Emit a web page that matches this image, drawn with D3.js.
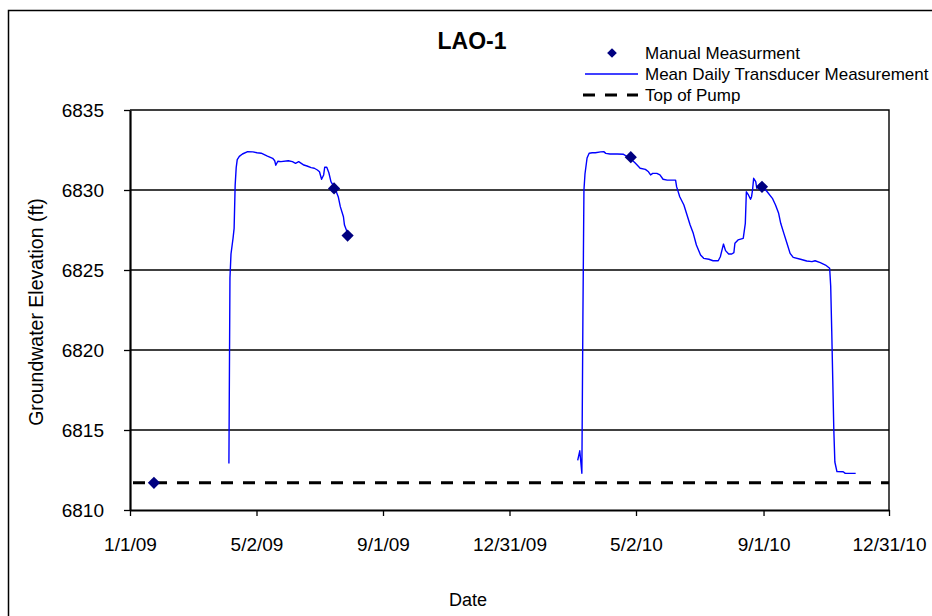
<!DOCTYPE html>
<html>
<head>
<meta charset="utf-8">
<script src="https://cdn.jsdelivr.net/npm/d3@7"></script>
<style>
  html, body { margin: 0; padding: 0; background: #fff; }
  svg { display: block; font-family: Arial, "Liberation Sans", sans-serif; }
</style>
</head>
<body>
<svg id="chart" width="932" height="616"></svg>
<script>
// ---------------- data ----------------
const chartTitle = "LAO-1";
const yAxisTitle = "Groundwater Elevation (ft)";
const xAxisTitle = "Date";
const legendLabels = ["Manual Measurment", "Mean Daily Transducer Measurement", "Top of Pump"];

const xTickDates = ["2009-01-01 00:00", "2009-05-02 12:00", "2009-09-01 00:00", "2009-12-31 12:00", "2010-05-02 00:00", "2010-09-01 12:00", "2010-12-31 00:00"];
const xTickLabels = ["1/1/09", "5/2/09", "9/1/09", "12/31/09", "5/2/10", "9/1/10", "12/31/10"];
const yTicks = [6810, 6815, 6820, 6825, 6830, 6835];

const manualDates = ["2009-01-24", "2009-07-16", "2009-07-29", "2010-04-27", "2010-08-31"];
const manualLevels = [6811.7, 6830.1, 6827.15, 6832.05, 6830.2];

const topOfPump = 6811.7;

const transducer2009Dates = ["2009-04-06","2009-04-07","2009-04-08","2009-04-09","2009-04-10","2009-04-11","2009-04-12","2009-04-13","2009-04-14","2009-04-16","2009-04-19","2009-04-24","2009-04-29","2009-05-03","2009-05-07","2009-05-13","2009-05-18","2009-05-20","2009-05-21","2009-05-23","2009-05-26","2009-06-02","2009-06-06","2009-06-09","2009-06-12","2009-06-17","2009-06-20","2009-06-24","2009-06-27","2009-06-30","2009-07-02","2009-07-04","2009-07-06","2009-07-07","2009-07-09","2009-07-11","2009-07-13","2009-07-17","2009-07-20","2009-07-22","2009-07-25","2009-07-26","2009-07-29"];
const transducer2009Levels = [6812.9,6824.5,6826.0,6826.5,6827.0,6827.6,6830.3,6831.4,6831.9,6832.1,6832.25,6832.4,6832.38,6832.33,6832.3,6832.12,6831.98,6831.83,6831.55,6831.8,6831.77,6831.83,6831.77,6831.67,6831.77,6831.56,6831.5,6831.4,6831.36,6831.25,6831.14,6830.67,6830.94,6831.42,6831.42,6831.08,6830.52,6830.08,6829.58,6828.96,6828.33,6827.81,6827.3];

const transducer2010Dates = ["2010-03-07","2010-03-09","2010-03-10","2010-03-11","2010-03-12","2010-03-13","2010-03-14","2010-03-16","2010-03-18","2010-03-21","2010-03-24","2010-03-29","2010-04-01","2010-04-03","2010-04-07","2010-04-14","2010-04-20","2010-04-26","2010-05-01","2010-05-06","2010-05-11","2010-05-14","2010-05-16","2010-05-18","2010-05-22","2010-05-25","2010-05-28","2010-06-01","2010-06-09","2010-06-10","2010-06-13","2010-06-17","2010-06-20","2010-06-23","2010-06-26","2010-06-29","2010-07-03","2010-07-06","2010-07-11","2010-07-15","2010-07-20","2010-07-22","2010-07-25","2010-07-27","2010-07-30","2010-08-02","2010-08-04","2010-08-05","2010-08-08","2010-08-13","2010-08-15","2010-08-16","2010-08-18","2010-08-20","2010-08-21","2010-08-22","2010-08-23","2010-08-25","2010-08-26","2010-08-29","2010-09-01","2010-09-05","2010-09-10","2010-09-13","2010-09-16","2010-09-18","2010-09-21","2010-09-24","2010-09-27","2010-09-30","2010-10-07","2010-10-13","2010-10-18","2010-10-21","2010-10-26","2010-10-31","2010-11-04","2010-11-05","2010-11-06","2010-11-07","2010-11-08","2010-11-09","2010-11-11","2010-11-17","2010-11-19","2010-11-29"];
const transducer2010Levels = [6813.1,6813.7,6813.0,6812.3,6822.0,6830.0,6831.0,6832.0,6832.3,6832.33,6832.33,6832.38,6832.4,6832.29,6832.25,6832.25,6832.23,6832.0,6831.7,6831.36,6831.29,6831.14,6830.94,6831.04,6831.04,6830.94,6830.67,6830.62,6830.62,6830.21,6829.58,6829.06,6828.44,6827.81,6827.29,6826.56,6825.94,6825.73,6825.67,6825.58,6825.58,6825.83,6826.62,6826.21,6826.0,6826.0,6826.08,6826.67,6826.88,6826.98,6827.92,6829.89,6829.69,6829.42,6829.58,6830.04,6830.73,6830.52,6830.11,6830.38,6830.19,6829.89,6829.48,6829.06,6828.54,6827.92,6827.29,6826.67,6826.04,6825.79,6825.67,6825.56,6825.52,6825.58,6825.46,6825.31,6825.11,6824.0,6821.2,6818.1,6815.0,6813.0,6812.4,6812.39,6812.29,6812.29];

// ---------------- drawing ----------------
const svg = d3.select("#chart");
const W = 932, H = 616;
const plot = { left: 130, right: 889, top: 110, bottom: 510 };
const FONT = "Arial, 'Liberation Sans', sans-serif";

const parseDay = d3.timeParse("%Y-%m-%d");
const parseTick = d3.timeParse("%Y-%m-%d %H:%M");

const x = d3.scaleTime()
  .domain([parseTick(xTickDates[0]), parseTick(xTickDates[xTickDates.length - 1])])
  .range([plot.left, plot.right]);
const y = d3.scaleLinear()
  .domain([yTicks[0], yTicks[yTicks.length - 1]])
  .range([plot.bottom, plot.top]);

svg.append("rect").attr("width", W).attr("height", H).attr("fill", "#fff");
// outer chart frame (only left/top visible)
svg.append("rect").attr("x", 8.5).attr("y", 10.5).attr("width", 1000).attr("height", 1000)
  .attr("fill", "none").attr("stroke", "#000").attr("stroke-width", 1.5);

// gridlines
svg.append("g").selectAll("line").data(yTicks.slice(1, -1)).join("line")
  .attr("x1", plot.left).attr("x2", plot.right)
  .attr("y1", d => y(d)).attr("y2", d => y(d))
  .attr("stroke", "#000").attr("stroke-width", 1.4);
// plot border top/right
svg.append("path")
  .attr("d", `M${plot.left},${plot.top}H${plot.right}V${plot.bottom}`)
  .attr("fill", "none").attr("stroke", "#000").attr("stroke-width", 1.4);

// axes
const xTickVals = xTickDates.map(parseTick);
const xAxis = d3.axisBottom(x).tickValues(xTickVals)
  .tickFormat((d, i) => xTickLabels[i]).tickSize(6).tickSizeOuter(0).tickPadding(22);
const gx = svg.append("g").attr("transform", `translate(0,${plot.bottom})`).call(xAxis);
gx.select(".domain").attr("stroke", "#000").attr("stroke-width", 2.2);
gx.selectAll(".tick line").attr("stroke", "#000").attr("stroke-width", 1.3);
gx.selectAll("text").attr("font-size", 19).attr("fill", "#000").attr("font-family", FONT);

const yAxis = d3.axisLeft(y).tickValues(yTicks).tickFormat(d3.format("d"))
  .tickSize(6).tickSizeOuter(0).tickPadding(20);
const gy = svg.append("g").attr("transform", `translate(${plot.left},0)`).call(yAxis);
gy.select(".domain").attr("stroke", "#000").attr("stroke-width", 2.2);
gy.selectAll(".tick line").attr("stroke", "#000").attr("stroke-width", 1.3);
gy.selectAll("text").attr("font-size", 19).attr("fill", "#000").attr("font-family", FONT);

// top of pump dashed line
svg.append("line")
  .attr("x1", plot.left + 3).attr("x2", plot.right)
  .attr("y1", y(topOfPump)).attr("y2", y(topOfPump))
  .attr("stroke", "#000").attr("stroke-width", 3).attr("stroke-dasharray", "12,10");

// transducer lines
const line = d3.line().x(d => x(d[0])).y(d => y(d[1]));
[[transducer2009Dates, transducer2009Levels], [transducer2010Dates, transducer2010Levels]].forEach(([ds, vs]) => {
  svg.append("path")
    .datum(ds.map((d, i) => [parseDay(d), vs[i]]))
    .attr("d", line)
    .attr("fill", "none").attr("stroke", "#0000ff").attr("stroke-width", 1.4)
    .attr("stroke-linejoin", "round");
});

// manual measurement diamonds
const diamond = d3.symbol().type(d3.symbolDiamond2).size(95);
svg.append("g").selectAll("path").data(manualDates.map((d, i) => [parseDay(d), manualLevels[i]])).join("path")
  .attr("transform", d => `translate(${x(d[0])},${y(d[1])})`)
  .attr("d", diamond)
  .attr("fill", "#000080");

// title
svg.append("text").attr("x", 472).attr("y", 49).attr("text-anchor", "middle")
  .attr("font-size", 23).attr("font-weight", "bold").text(chartTitle);

// axis titles
svg.append("text").attr("transform", "translate(43,312) rotate(-90)").attr("text-anchor", "middle")
  .attr("font-size", 19.5).text(yAxisTitle);
svg.append("text").attr("x", 468).attr("y", 606).attr("text-anchor", "middle")
  .attr("font-size", 18).text(xAxisTitle);

// legend
const lg = svg.append("g");
lg.append("path").attr("transform", "translate(612,53)")
  .attr("d", d3.symbol().type(d3.symbolDiamond2).size(60)).attr("fill", "#000080");
lg.append("line").attr("x1", 585).attr("x2", 638).attr("y1", 74).attr("y2", 74)
  .attr("stroke", "#0000ff").attr("stroke-width", 1.5);
lg.append("line").attr("x1", 583).attr("x2", 638).attr("y1", 95).attr("y2", 95)
  .attr("stroke", "#000").attr("stroke-width", 3).attr("stroke-dasharray", "12,10");
lg.selectAll("text").data(legendLabels).join("text")
  .attr("x", 645).attr("y", (d, i) => 59 + i * 21)
  .attr("font-size", 17).text(d => d);
</script>
</body>
</html>
